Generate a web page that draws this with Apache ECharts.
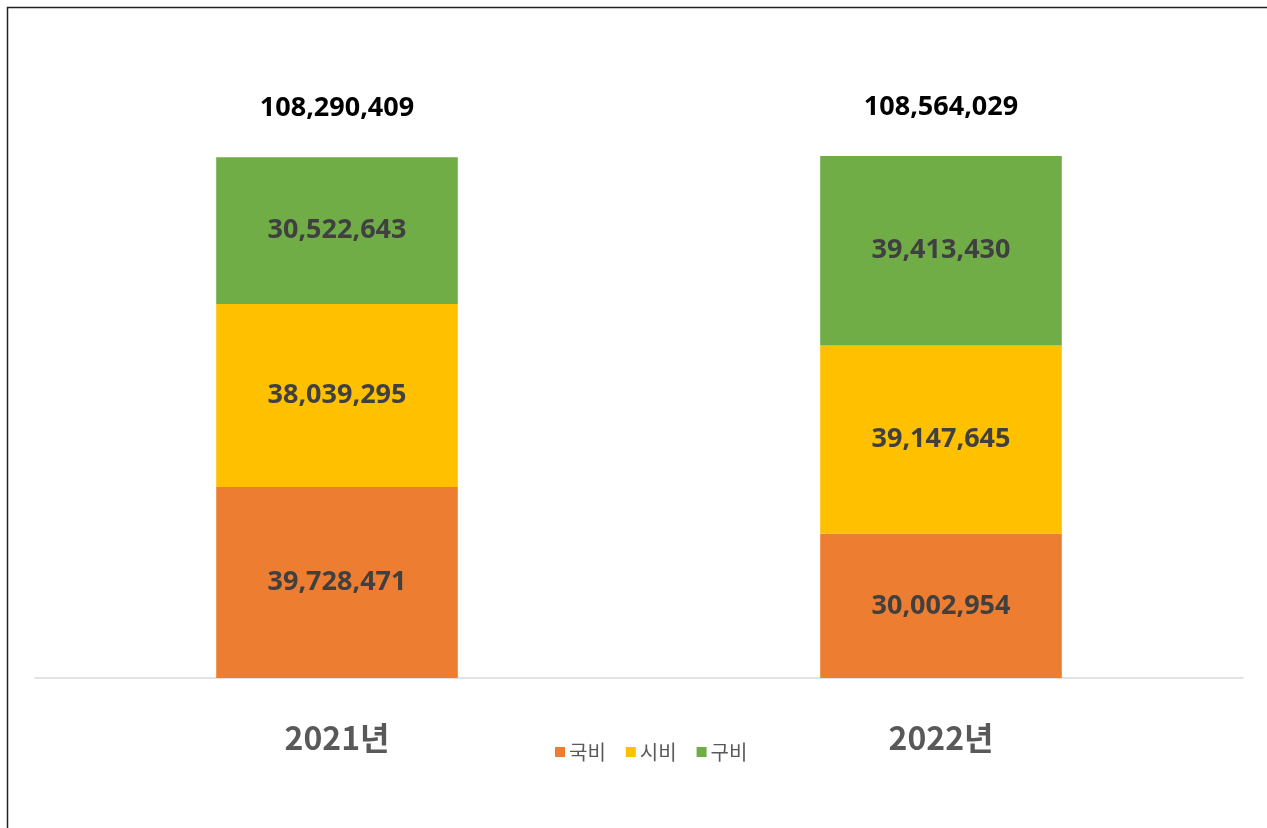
<!DOCTYPE html>
<html>
<head>
<meta charset="utf-8">
<script src="https://cdn.jsdelivr.net/npm/echarts@6/dist/echarts.min.js"></script>
<style>
html,body{margin:0;padding:0;background:#fff;}
#chart{width:1267px;height:828px;}
</style>
</head>
<body>
<div id="chart"></div>
<script>
const categories = ['2021년', '2022년'];
const gukbi = [39728471, 30002954];
const sibi = [38039295, 39147645];
const gubi = [30522643, 39413430];
const totals = [108290409, 108564029];

const fmt = v => v.toLocaleString('en-US');
const numFont = '"Noto Sans", "Noto Sans CJK KR", sans-serif';

const innerLabel = {
  show: true,
  position: 'inside',
  fontFamily: numFont,
  fontWeight: 'bold',
  fontSize: 27,
  color: '#404040',
  formatter: p => fmt(p.value)
};

const chart = echarts.init(document.getElementById('chart'));
chart.setOption({
  animation: false,
  backgroundColor: '#fff',
  grid: { left: 35, right: 24, top: 101, bottom: 150 },
  legend: {
    data: ['국비', '시비', '구비'],
    left: 550,
    top: 737,
    icon: 'rect',
    itemWidth: 10,
    itemHeight: 10,
    itemGap: 20,
    textStyle: { fontFamily: '"Noto Sans CJK KR", sans-serif', fontSize: 20, color: '#595959', padding: [0, 0, 0, -1] }
  },
  xAxis: {
    type: 'category',
    data: categories,
    axisLine: { lineStyle: { color: '#d9d9d9', width: 1.5 } },
    axisTick: { show: false },
    axisLabel: {
      margin: 44,
      fontFamily: '"Noto Sans CJK KR", sans-serif',
      fontWeight: 'bold',
      fontSize: 32,
      color: '#595959'
    }
  },
  yAxis: {
    type: 'value',
    min: 0,
    max: 120000000,
    show: false,
    splitLine: { show: false }
  },
  series: [
    {
      name: '국비', type: 'bar', stack: 't', barWidth: '40%',
      itemStyle: { color: '#ed7d31' },
      label: innerLabel,
      data: gukbi
    },
    {
      name: '시비', type: 'bar', stack: 't', barWidth: '40%',
      itemStyle: { color: '#ffc000' },
      label: innerLabel,
      data: sibi
    },
    {
      name: '구비', type: 'bar', stack: 't', barWidth: '40%',
      itemStyle: { color: '#70ad47' },
      label: innerLabel,
      data: gubi
    },
    {
      name: 'total', type: 'bar', stack: 't', barWidth: '40%',
      itemStyle: { color: 'transparent' },
      silent: true,
      label: {
        show: true,
        position: 'insideBottom',
        distance: 35,
        fontFamily: numFont,
        fontWeight: 'bold',
        fontSize: 27,
        color: '#000',
        formatter: p => fmt(totals[p.dataIndex])
      },
      data: totals.map(() => 0.0001)
    }
  ],
  graphic: [
    { type: 'line', shape: { x1: 7.5, y1: 7, x2: 7.5, y2: 828 }, style: { stroke: '#222', lineWidth: 1.5 } },
    { type: 'line', shape: { x1: 7, y1: 7.5, x2: 1267, y2: 7.5 }, style: { stroke: '#222', lineWidth: 1.5 } }
  ]
});
</script>
</body>
</html>
